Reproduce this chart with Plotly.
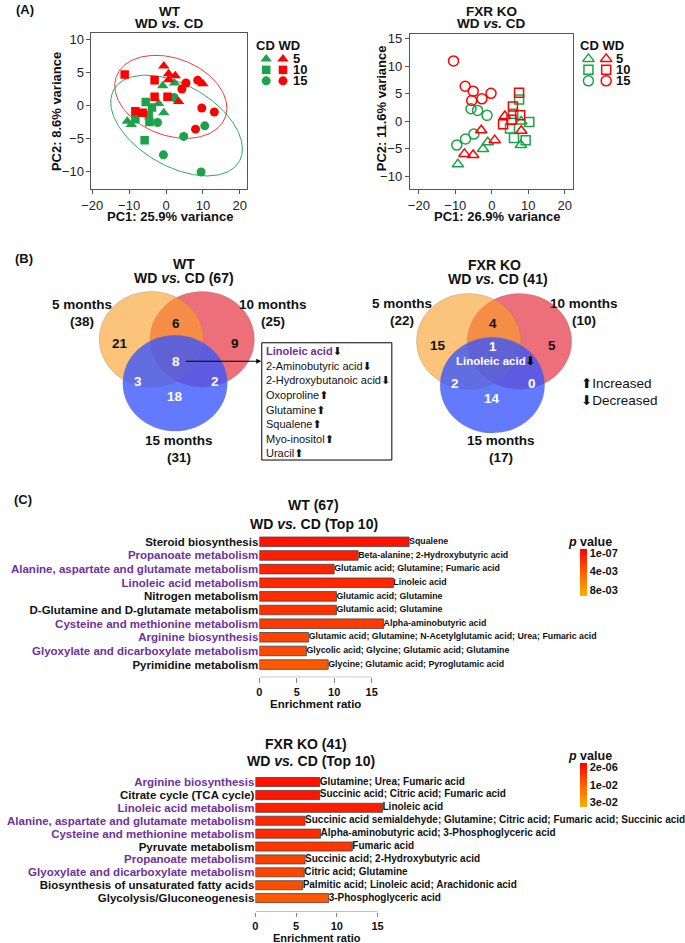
import numpy as np
import plotly.graph_objects as go

W, H = 685, 943
FONT = "Arial, Liberation Sans, sans-serif"
RED = "#FF0000"
GREEN = "#1AA34A"
PURPLE = "#7030A0"
INK = "#111111"

# ================= (A) PCA scores =================
wt_cd5_x = [-0.9, 2.3, -2.0, -0.6, -10.5, -9.4]
wt_cd5_y = [3.0, 3.4, 0.3, -1.1, -2.4, -2.9]
wt_cd10_x = [-5.5, -3.8, -4.7, -4.5, -8.3, -5.8]
wt_cd10_y = [0.5, -0.3, -1.5, -2.5, -2.1, -5.3]
wt_cd15_x = [2.2, -2.3, 4.8, 10.5, -0.7, 9.5]
wt_cd15_y = [1.2, -2.6, -4.7, -3.1, -7.5, -10.1]
wt_wd5_x = [-0.6, 0.7, 2.5, 0.7, 10.0, 3.4]
wt_wd5_y = [6.0, 4.8, 4.5, 3.9, 3.3, 0.6]
wt_wd10_x = [-11.2, -3.1, -3.1, 0.4, -8.3, -6.3]
wt_wd10_y = [4.7, 3.8, 1.3, 1.3, -0.9, -1.1]
wt_wd15_x = [5.4, 4.3, 8.6, 9.7, 13.1, 8.0]
wt_wd15_y = [3.4, 2.5, 3.8, -0.4, -1.0, -3.6]

ko_cd5_x = [-9.3, -2.4, -1.1, 8.1, 8.0]
ko_cd5_y = [-7.8, -5.0, -3.8, 0.0, -4.3]
ko_cd10_x = [7.5, 5.9, 10.3, 5.0, 6.1, 9.3]
ko_cd10_y = [4.0, 1.4, -0.1, -1.3, -3.0, -3.4]
ko_cd15_x = [-5.7, -3.9, -1.3, -9.6, -7.2, -4.9]
ko_cd15_y = [2.3, 2.0, 1.1, -4.3, -3.2, -2.3]
ko_wd5_x = [-2.9, 0.8, -7.5, -5.1, 3.6, 8.1]
ko_wd5_y = [-1.6, -3.4, -5.9, -6.1, 1.0, -1.7]
ko_wd10_x = [7.5, 5.8, 7.8, 5.4, 3.1]
ko_wd10_y = [5.2, 2.7, 1.1, 0.3, -0.5]
ko_wd15_x = [-10.5, -7.3, -5.1, -5.5, -2.7, -0.2]
ko_wd15_y = [11.0, 6.4, 5.5, 3.8, 4.1, 5.1]

# 95% ellipses (centre, covariance)
wt_wd_ell_center = [1.3, 1.3]
wt_wd_ell_cov = [[231.0, -25.8], [-25.8, 39.7]]
wt_cd_ell_center = [2.85, -3.05]
wt_cd_ell_cov = [[318.6, -63.5], [-63.5, 58.5]]

month_levels = ["5", "10", "15"]
wt_pc_labels = ["PC1: 25.9% variance", "PC2: 8.6% variance"]
ko_pc_labels = ["PC1: 26.9% variance", "PC2: 11.6% variance"]

# ================= (B) Venn =================
venn_sets = ["5 months", "10 months", "15 months"]
wt_set_sizes = [38, 25, 31]
ko_set_sizes = [22, 10, 17]
venn_regions = ["5", "10", "15", "5&10", "5&15", "10&15", "5&10&15"]
wt_region_counts = [21, 9, 18, 6, 3, 2, 8]
ko_region_counts = [15, 5, 14, 4, 2, 0, 1]
wt_common = ["Linoleic acid", "2-Aminobutyric acid", "2-Hydroxybutanoic acid",
             "Oxoproline", "Glutamine", "Squalene", "Myo-inositol", "Uracil"]
wt_common_dir = ["down", "down", "down", "up", "up", "up", "up", "up"]
ko_common = ["Linoleic acid"]
ko_common_dir = ["down"]

# ================= (C) Enrichment =================
wt_pathways = ["Steroid biosynthesis", "Propanoate metabolism",
               "Alanine, aspartate and glutamate metabolism", "Linoleic acid metabolism",
               "Nitrogen metabolism", "D-Glutamine and D-glutamate metabolism",
               "Cysteine and methionine metabolism", "Arginine biosynthesis",
               "Glyoxylate and dicarboxylate metabolism", "Pyrimidine metabolism"]
wt_ratio = [20.0, 13.2, 10.0, 17.9, 10.3, 10.3, 16.6, 6.6, 6.3, 9.2]
wt_p = [0.0001, 0.0008, 0.0010, 0.0012, 0.0015, 0.0017, 0.0022, 0.0027, 0.0030, 0.0038]
wt_hits = ["Squalene", "Beta-alanine; 2-Hydroxybutyric acid",
           "Glutamic acid; Glutamine; Fumaric acid", "Linoleic acid",
           "Glutamic acid; Glutamine", "Glutamic acid; Glutamine", "Alpha-aminobutyric acid",
           "Glutamic acid; Glutamine; N-Acetylglutamic acid; Urea; Fumaric acid",
           "Glycolic acid; Glycine; Glutamic acid; Glutamine",
           "Glycine; Glutamic acid; Pyroglutamic acid"]
wt_highlight = [False, True, True, True, False, False, True, True, True, False]
wt_cbar_ticks = [1e-07, 0.004, 0.008]
wt_cbar_text = ["1e-07", "4e-03", "8e-03"]

ko_pathways = ["Arginine biosynthesis", "Citrate cycle (TCA cycle)", "Linoleic acid metabolism",
               "Alanine, aspartate and glutamate metabolism", "Cysteine and methionine metabolism",
               "Pyruvate metabolism", "Propanoate metabolism",
               "Glyoxylate and dicarboxylate metabolism",
               "Biosynthesis of unsaturated fatty acids", "Glycolysis/Gluconeogenesis"]
ko_ratio = [7.9, 7.9, 15.6, 6.1, 8.0, 11.9, 6.1, 6.0, 5.8, 9.0]
ko_p = [0.000002, 0.001, 0.002, 0.004, 0.005, 0.007, 0.009, 0.010, 0.012, 0.014]
ko_hits = ["Glutamine; Urea; Fumaric acid", "Succinic acid; Citric acid; Fumaric acid",
           "Linoleic acid",
           "Succinic acid semialdehyde; Glutamine; Citric acid; Fumaric acid; Succinic acid",
           "Alpha-aminobutyric acid; 3-Phosphoglyceric acid", "Fumaric acid",
           "Succinic acid; 2-Hydroxybutyric acid", "Citric acid; Glutamine",
           "Palmitic acid; Linoleic acid; Arachidonic acid", "3-Phosphoglyceric acid"]
ko_highlight = [True, False, True, True, True, False, True, True, False, False]
ko_cbar_ticks = [2e-06, 0.015, 0.03]
ko_cbar_text = ["2e-06", "1e-02", "3e-02"]

# ---------------- helpers ----------------
def X(px):
    return px / W


def Y(py):
    return 1 - py / H


fig = go.Figure()
annots = []


def txt(x, y, s, size=13, bold=True, color=INK, xanchor="center", yanchor="middle", textangle=0):
    if bold:
        s = "<b>" + s + "</b>"
    annots.append(dict(x=x, y=y, xref="x5", yref="y5", text=s, showarrow=False,
                       xanchor=xanchor, yanchor=yanchor, textangle=textangle, borderpad=0,
                       font=dict(family=FONT, size=size, color=color)))


def ellipse(center, cov, n=200):
    t = np.linspace(0, 2 * np.pi, n)
    L = np.linalg.cholesky(np.array(cov))
    pts = np.array(center)[:, None] + L @ np.vstack([np.cos(t), np.sin(t)])
    return pts[0], pts[1]


# ---------------- (A) traces ----------------
filled = {"5": ("triangle-up", 10), "10": ("square", 8.5), "15": ("circle", 9)}
opened = {"5": ("triangle-up-open", 10), "10": ("square-open", 9), "15": ("circle-open", 10)}

ex, ey = ellipse(wt_wd_ell_center, wt_wd_ell_cov)
fig.add_trace(go.Scatter(x=ex, y=ey, mode="lines", line=dict(color="#EE3B3B", width=1),
                         xaxis="x", yaxis="y", hoverinfo="skip"))
ex, ey = ellipse(wt_cd_ell_center, wt_cd_ell_cov)
fig.add_trace(go.Scatter(x=ex, y=ey, mode="lines", line=dict(color="#2EAA5A", width=1),
                         xaxis="x", yaxis="y", hoverinfo="skip"))

wt_groups = [("5", GREEN, wt_cd5_x, wt_cd5_y), ("10", GREEN, wt_cd10_x, wt_cd10_y),
             ("15", GREEN, wt_cd15_x, wt_cd15_y), ("5", RED, wt_wd5_x, wt_wd5_y),
             ("10", RED, wt_wd10_x, wt_wd10_y), ("15", RED, wt_wd15_x, wt_wd15_y)]
for lev, col, xs, ys in wt_groups:
    sym, sz = filled[lev]
    fig.add_trace(go.Scatter(x=xs, y=ys, mode="markers", xaxis="x", yaxis="y",
                             marker=dict(symbol=sym, size=sz, color=col, line=dict(width=0))))

ko_groups = [("5", GREEN, ko_cd5_x, ko_cd5_y), ("10", GREEN, ko_cd10_x, ko_cd10_y),
             ("15", GREEN, ko_cd15_x, ko_cd15_y), ("5", RED, ko_wd5_x, ko_wd5_y),
             ("10", RED, ko_wd10_x, ko_wd10_y), ("15", RED, ko_wd15_x, ko_wd15_y)]
for lev, col, xs, ys in ko_groups:
    sym, sz = opened[lev]
    fig.add_trace(go.Scatter(x=xs, y=ys, mode="markers", xaxis="x2", yaxis="y2",
                             marker=dict(symbol=sym, size=sz, color=col, line=dict(width=1.5, color=col))))

# legends for PCA (pixel overlay axis)
leg_rows = [57, 68, 79]
for (gx, rx, lx, hx, mk) in [(260, 277, 286, 249, filled), (587, 605, 614, 577, opened)]:
    txt(hx, 44, "CD WD", size=13, xanchor="left")
    for lev, ry in zip(month_levels, leg_rows):
        sym, sz = mk[lev]
        for cx, col in [(gx, GREEN), (rx, RED)]:
            fig.add_trace(go.Scatter(x=[cx], y=[ry], mode="markers", xaxis="x5", yaxis="y5",
                                     marker=dict(symbol=sym, size=sz, color=col,
                                                 line=dict(width=1.5 if mk is opened else 0, color=col))))
        txt(lx, ry, lev, size=13, xanchor="left")

# PCA titles / axis titles
txt(15, 8, "(A)", size=13)
txt(162, 10, "WT", size=13.5)
txt(162, 22, "WD <i>vs.</i> CD", size=13.5)
txt(489, 10, "FXR KO", size=13.5)
txt(489, 22, "WD <i>vs.</i> CD", size=13.5)
txt(162, 215, wt_pc_labels[0], size=13)
txt(47, 110, wt_pc_labels[1], size=13, textangle=-90)
txt(494, 215, ko_pc_labels[0], size=13)
txt(377, 107, ko_pc_labels[1], size=13, textangle=-90)

# ---------------- (B) Venn ----------------
venn_colors = {"5 months": "rgba(250,160,40,0.62)", "10 months": "rgba(228,55,70,0.72)",
               "15 months": "rgba(55,85,255,0.78)"}
draw_order = ["10 months", "5 months", "15 months"]
circle_off = {"5 months": (-24, 0), "10 months": (27.5, 0), "15 months": (0, 44)}
RX, RY = 53, 48
shapes = []
region_off = {"5": (-55.5, 4), "10": (60.5, 4), "15": (0, 57), "5&10": (0.5, -16),
              "5&15": (-37.5, 42), "10&15": (40.5, 42), "5&10&15": (1, 22)}
white_regions = {"15", "5&15", "10&15", "5&10&15"}

panels = [
    dict(o=(167.5, 338), sizes=wt_set_sizes, counts=wt_region_counts, title=("WT", "WD <i>vs.</i> CD (67)"),
         tpos=((177, 263), (177, 277)), lab={"5 months": (73, 303), "10 months": (267, 303),
                                              "15 months": (172, 439)}),
    dict(o=(489.5, 340), sizes=ko_set_sizes, counts=ko_region_counts,
         title=("FXR KO", "WD <i>vs.</i> CD (41)"),
         tpos=((492, 264), (495, 278)), lab={"5 months": (398, 302), "10 months": (583, 302),
                                              "15 months": (498, 439)}),
]
for pi, pnl in enumerate(panels):
    ox, oy = pnl["o"]
    for s in draw_order:
        dx, dy = circle_off[s]
        shapes.append(dict(type="circle", xref="x5", yref="y5", x0=ox + dx - RX, x1=ox + dx + RX,
                           y0=oy + dy - RY, y1=oy + dy + RY, fillcolor=venn_colors[s],
                           line=dict(color="rgba(120,120,120,0.35)", width=0.8)))
    for reg, cnt in zip(venn_regions, pnl["counts"]):
        dx, dy = region_off[reg]
        if pi == 1 and reg == "5&10&15":
            dy = 5
        if pi == 1 and reg == "5&10":
            dy = -18
        txt(ox + dx, oy + dy, str(cnt), size=13.5,
            color="white" if reg in white_regions else INK)
    for s, n in zip(venn_sets, pnl["sizes"]):
        lx, ly = pnl["lab"][s]
        txt(lx, ly, s, size=13.5)
        txt(lx, ly + 17, "(%d)" % n, size=13.5)
    (t1x, t1y), (t2x, t2y) = pnl["tpos"]
    txt(t1x, t1y, pnl["title"][0], size=14)
    txt(t2x, t2y, pnl["title"][1], size=14)

txt(14, 257, "(B)", size=13)

ARROW = {"up": "\u2B06", "down": "\u2B07"}
# WT common list box
shapes.append(dict(type="rect", xref="x5", yref="y5", x0=255.5, x1=387.5, y0=341.5, y1=459,
                   line=dict(color="black", width=1), fillcolor="rgba(0,0,0,0)"))
for i, (nm, d) in enumerate(zip(wt_common, wt_common_dir)):
    s = nm
    if i == 0:
        s = "<b><span style='color:%s'>%s</span></b>" % (PURPLE, nm)
    s += "<span style='font-family:DejaVu Sans'>%s</span>" % ARROW[d]
    txt(259, 350.5 + i * 14.6, s, size=11, bold=False, xanchor="left")
annots.append(dict(x=255, y=360, ax=177, ay=360, xref="x5", yref="y5", axref="x5", ayref="y5",
                   text="", showarrow=True, arrowhead=2, arrowsize=1, arrowwidth=1, arrowcolor="black"))
# KO common label
txt(493, 360, "%s<span style='font-family:DejaVu Sans;color:black'>%s</span>" % (ko_common[0], ARROW[ko_common_dir[0]]),
    size=11.5, color="white")
txt(578, 382, "<span style='font-family:DejaVu Sans'>%s</span>Increased" % ARROW["up"], size=13.5, bold=False,
    xanchor="left")
txt(578, 399, "<span style='font-family:DejaVu Sans'>%s</span>Decreased" % ARROW["down"], size=13.5, bold=False,
    xanchor="left")

# ---------------- (C) Enrichment bars ----------------
txt(13, 499, "(C)", size=13)


def bar_panel(pathways, ratio, pvals, hits, hl, xa, ya, cax, txt_size):
    n = len(pathways)
    ypos = [n - 1 - i for i in range(n)]
    fig.add_trace(go.Bar(x=ratio, y=ypos, orientation="h", xaxis=xa, yaxis=ya, width=0.7,
                         marker=dict(color=[-p for p in pvals], coloraxis=cax,
                                     line=dict(color="#444444", width=0.8))))
    fig.add_trace(go.Scatter(x=ratio, y=ypos, mode="text", text=["<b>%s</b>" % h for h in hits],
                             textposition="middle right",
                             xaxis=xa, yaxis=ya, cliponaxis=False, hoverinfo="skip",
                             textfont=dict(family=FONT, size=txt_size, color=INK)))
    ticktext = []
    for nm, h in zip(pathways, hl):
        col = PURPLE if h else INK
        ticktext.append("<span style='color:%s'><b>%s</b></span>" % (col, nm))
    return ypos, ticktext


wt_y, wt_tt = bar_panel(wt_pathways, wt_ratio, wt_p, wt_hits, wt_highlight, "x3", "y3", "coloraxis", 8.8)
ko_y, ko_tt = bar_panel(ko_pathways, ko_ratio, ko_p, ko_hits, ko_highlight, "x4", "y4", "coloraxis2", 10)

txt(308, 504, "WT (67)", size=14)
txt(308, 523, "WD <i>vs.</i> CD (Top 10)", size=14)
txt(310, 703, "Enrichment ratio", size=11.5)
txt(300, 744, "FXR KO (41)", size=14)
txt(305, 761, "WD <i>vs.</i> CD (Top 10)", size=14)
txt(312, 937.5, "Enrichment ratio", size=11)
txt(589, 541, "<i>p</i> value", size=12.5)
txt(589, 756, "<i>p</i> value", size=12.5)

# axis lines for bar panels (0..15 only)
WT_YMIN, KO_YMIN = -0.93, -1.08
shapes.append(dict(type="line", xref="x3", yref="y3", x0=0, x1=15, y0=WT_YMIN, y1=WT_YMIN,
                   line=dict(color="#888888", width=1.2)))
shapes.append(dict(type="line", xref="x4", yref="y4", x0=0, x1=15, y0=KO_YMIN, y1=KO_YMIN,
                   line=dict(color="#888888", width=1.2)))

# ---------------- layout ----------------
tickf = dict(family=FONT, size=13, color="#222222")
pca_common = dict(showline=True, mirror=True, linecolor="#555555", linewidth=1, ticks="outside",
                  ticklen=4, tickcolor="#555555", tickfont=tickf, showgrid=False, zeroline=False)


def bar_x(ticklen):
    return dict(showline=False, showgrid=False, zeroline=False, ticks="outside", ticklen=ticklen,
                tickcolor="#888888", tickwidth=1.2, tickvals=[0, 5, 10, 15],
                tickfont=dict(family=FONT, size=11, color=INK, weight="bold"), range=[0, 25])


bar_y_common = dict(showline=False, showgrid=False, zeroline=False, ticks="",
                    tickfont=dict(family=FONT, size=11.5, color=INK))

cscale = [[0.0, "#FFB000"], [0.5, "#FF6000"], [1.0, "#FF0000"]]


def cbar(center_py, len_px, ticks, texts):
    return dict(x=X(578), xanchor="left", xpad=0, ypad=0, y=Y(center_py), yanchor="middle",
                len=len_px, lenmode="pixels", thickness=7, thicknessmode="pixels",
                outlinewidth=0, ticks="", tickvals=[-t for t in ticks], ticktext=texts,
                tickfont=dict(family=FONT, size=11, color=INK, weight="bold"))


fig.update_layout(
    width=W, height=H, autosize=False, margin=dict(l=0, r=0, t=0, b=0),
    paper_bgcolor="white", plot_bgcolor="rgba(0,0,0,0)", showlegend=False,
    font=dict(family=FONT, color=INK),
    xaxis=dict(domain=[X(82.7), X(240.7)], range=[-20.2, 22], tickvals=[-20, -10, 0, 10, 20],
               anchor="y", **pca_common),
    yaxis=dict(domain=[Y(187.5), Y(31)], range=[-12.7, 11], tickvals=[-10, -5, 0, 5, 10],
               anchor="x", **pca_common),
    xaxis2=dict(domain=[X(405.7), X(571)], range=[-22.5, 22.2], tickvals=[-20, -10, 0, 10, 20],
                anchor="y2", **pca_common),
    yaxis2=dict(domain=[Y(187.5), Y(32)], range=[-12.3, 15.9], tickvals=[-10, -5, 0, 5, 10, 15],
                anchor="x2", **pca_common),
    xaxis3=dict(domain=[X(253), X(253 + 7.6 * 25)], anchor="y3", **bar_x(5)),
    yaxis3=dict(domain=[Y(676.7), Y(534)], range=[WT_YMIN, 9.51], tickvals=wt_y, ticktext=wt_tt,
                anchor="x3", **bar_y_common),
    xaxis4=dict(domain=[X(249), X(249 + 8.27 * 25)], anchor="y4", **bar_x(4)),
    yaxis4=dict(domain=[Y(912), Y(774.7)], range=[KO_YMIN, 9.54], tickvals=ko_y, ticktext=ko_tt,
                anchor="x4", **bar_y_common),
    xaxis5=dict(domain=[0, 1], range=[0, W], visible=False, anchor="y5"),
    yaxis5=dict(domain=[0, 1], range=[H, 0], visible=False, anchor="x5"),
    coloraxis=dict(colorscale=cscale, cmin=-0.0093, cmax=0.00086,
                   colorbar=cbar(571.5, 47, wt_cbar_ticks, wt_cbar_text)),
    coloraxis2=dict(colorscale=cscale, cmin=-0.0343, cmax=0.0034,
                    colorbar=cbar(785, 44, ko_cbar_ticks, ko_cbar_text)),
    shapes=shapes, annotations=annots,
)

fig.write_html("out.html", config={"displayModeBar": False},
               post_script="document.body.style.margin='0';document.body.style.overflow='hidden';")
